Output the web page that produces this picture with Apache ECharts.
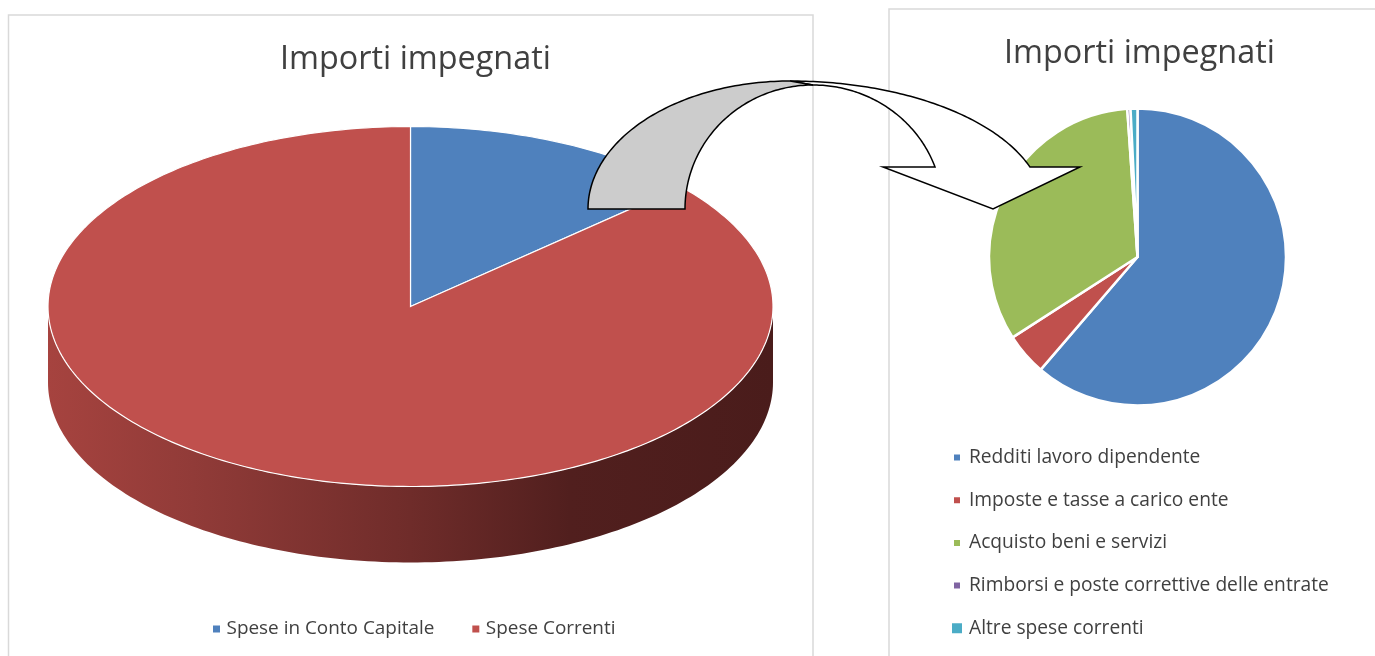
<!DOCTYPE html>
<html><head><meta charset="utf-8">
<script src="https://cdn.jsdelivr.net/npm/echarts@6/dist/echarts.min.js"></script>
<style>html,body{margin:0;padding:0;background:#fff}#c{width:1375px;height:656px}</style>
</head><body><div id="c"></div>
<script>
// ---- data ----
const chartTitle = 'Importi impegnati';
const leftCategories = ['Spese in Conto Capitale', 'Spese Correnti'];
const leftValues = [13.4, 86.6];
const rightCategories = ['Redditi lavoro dipendente', 'Imposte e tasse a carico ente', 'Acquisto beni e servizi', 'Rimborsi e poste correttive delle entrate', 'Altre spese correnti'];
const rightValues = [61.3, 4.6, 33.0, 0.35, 0.75];

// ---- style ----
const leftColors = ['#4f81bd', '#c0504d'];
const rightColors = ['#4f81bd', '#c0504d', '#9bbb59', '#8064a2', '#4bacc6'];
const FONT = 'Open Sans';
const TEXT = '#404040';

function fit(text, target, weight) {
  const ctx = document.createElement('canvas').getContext('2d');
  ctx.font = (weight || 'normal') + ' 100px "' + FONT + '"';
  return 100 * target / ctx.measureText(text).width;
}
const titleSize = fit(chartTitle, 271, 'normal');
const legSizeL = fit(leftCategories[0], 208);
const legSizeR = fit(rightCategories[3], 360);

const leftTotal = leftValues.reduce((a, b) => a + b, 0);
const DEPTH = 0.422; // side thickness in y units of the flattened pie

function renderSlice(k) {
  return function (params, api) {
    const before = leftValues.slice(0, k).reduce((a, b) => a + b, 0);
    const a0 = before / leftTotal * 2 * Math.PI;
    const a1 = (before + api.value(2)) / leftTotal * 2 * Math.PI;
    const pt = (t, dy) => api.coord([Math.sin(t), Math.cos(t) - (dy || 0)]);
    const children = [];
    const s0 = Math.max(a0, Math.PI / 2), s1 = Math.min(a1, 3 * Math.PI / 2);
    if (s1 > s0) {
      const top = [], bot = [];
      const n = 160;
      for (let i = 0; i <= n; i++) {
        const t = s0 + (s1 - s0) * i / n;
        top.push(pt(t)); bot.push(pt(t, DEPTH));
      }
      const xl = api.coord([-1, 0])[0], xr = api.coord([1, 0])[0];
      children.push({
        type: 'polygon', shape: { points: top.concat(bot.reverse()) },
        style: {
          fill: new echarts.graphic.LinearGradient(xl, 0, xr, 0, [
            { offset: 0, color: '#a6433f' }, { offset: 0.2, color: '#913b38' },
            { offset: 0.5, color: '#6f2c2a' }, { offset: 0.72, color: '#511f1e' },
            { offset: 1, color: '#4a1c1b' }], true)
        }
      });
    }
    const pts = [api.coord([0, 0])];
    const n = Math.max(4, Math.ceil((a1 - a0) / (2 * Math.PI) * 360));
    for (let i = 0; i <= n; i++) pts.push(pt(a0 + (a1 - a0) * i / n));
    children.push({ type: 'polygon', shape: { points: pts }, style: { fill: api.visual('color'), stroke: '#ffffff', lineWidth: 1.2 } });
    return { type: 'group', children };
  };
}

// decorative curved arrow (Office "curved down arrow" shape)
function arc(cx, cy, rx, ry, t0, t1, n) {
  const out = [];
  for (let i = 0; i <= n; i++) {
    const t = (t0 + (t1 - t0) * i / n) * Math.PI / 180;
    out.push([cx + rx * Math.cos(t), cy + ry * Math.sin(t)]);
  }
  return out;
}
const whiteBand = arc(790, 209, 254, 128, 270, 340.85, 80)
  .concat([[1080, 167], [993, 209], [883, 167]])
  .concat(arc(813, 209, 129.7, 124, 340.2, 270, 80));
const grayBand = arc(790, 209, 202, 128, 180, 270, 80)
  .concat(arc(813, 209, 128, 124, 270, 180, 80));

const smallIcon = 'path://M-2 -2M0 0h8v8h-8zM10 10';
const bigIcon = 'path://M0 0h12v12h-12z';

const option = {
  animation: false,
  title: [
    { text: chartTitle, left: 280, top: 44, padding: 0, textStyle: { fontFamily: FONT, fontWeight: 'normal', fontSize: titleSize, color: TEXT } },
    { text: chartTitle, left: 1004, top: 38, padding: 0, textStyle: { fontFamily: FONT, fontWeight: 'normal', fontSize: titleSize, color: TEXT } }
  ],
  legend: [
    {
      data: leftCategories, left: 213, top: 618, orient: 'horizontal', padding: 0,
      itemWidth: 10, itemHeight: 7, itemGap: 38, icon: 'path://M0 0h1v1h-1z', selectedMode: false,
      textStyle: { fontFamily: FONT, fontSize: legSizeL, color: TEXT, lineHeight: 22 }
    },
    {
      data: rightCategories.map((n, i) => ({ name: n, icon: i === 4 ? bigIcon : smallIcon })),
      left: 950, top: 446.5, orient: 'vertical', padding: 0,
      itemWidth: 14, itemHeight: 12, itemGap: 20.7, selectedMode: false,
      textStyle: { fontFamily: FONT, fontSize: legSizeR, color: TEXT, lineHeight: 22 }
    }
  ],
  grid: { left: 48, top: 126.5, width: 725, height: 360 },
  xAxis: { type: 'value', min: -1, max: 1, show: false },
  yAxis: { type: 'value', min: -1, max: 1, show: false },
  graphic: [
    { type: 'rect', z: 0, shape: { x: 8.5, y: 15, width: 804.5, height: 700 }, style: { fill: 'none', stroke: '#d9d9d9', lineWidth: 1.5 } },
    { type: 'rect', z: 0, shape: { x: 889, y: 9, width: 600, height: 700 }, style: { fill: 'none', stroke: '#d9d9d9', lineWidth: 1.5 } },
    { type: 'polygon', z: 100, shape: { points: whiteBand }, style: { fill: '#ffffff', stroke: '#000000', lineWidth: 1.5 } },
    { type: 'polygon', z: 101, shape: { points: grayBand }, style: { fill: '#cccccc', stroke: '#000000', lineWidth: 1.5 } }
  ],
  series: leftCategories.map((name, k) => ({
    type: 'custom', name, coordinateSystem: 'cartesian2d', clip: false, silent: true,
    itemStyle: { color: leftColors[k] },
    renderItem: renderSlice(k),
    data: [[0, 0, leftValues[k]]]
  })).concat([{
    type: 'pie', center: [1137.5, 257], radius: [0, 148.5], startAngle: 90, clockwise: true,
    label: { show: false }, labelLine: { show: false }, silent: true, avoidLabelOverlap: false,
    itemStyle: { borderColor: '#ffffff', borderWidth: 2.5 },
    emphasis: { disabled: true },
    data: rightCategories.map((n, i) => ({ name: n, value: rightValues[i], itemStyle: { color: rightColors[i] } }))
  }])
};
const chart = echarts.init(document.getElementById('c'));
chart.setOption(option);
</script>
</body></html>
